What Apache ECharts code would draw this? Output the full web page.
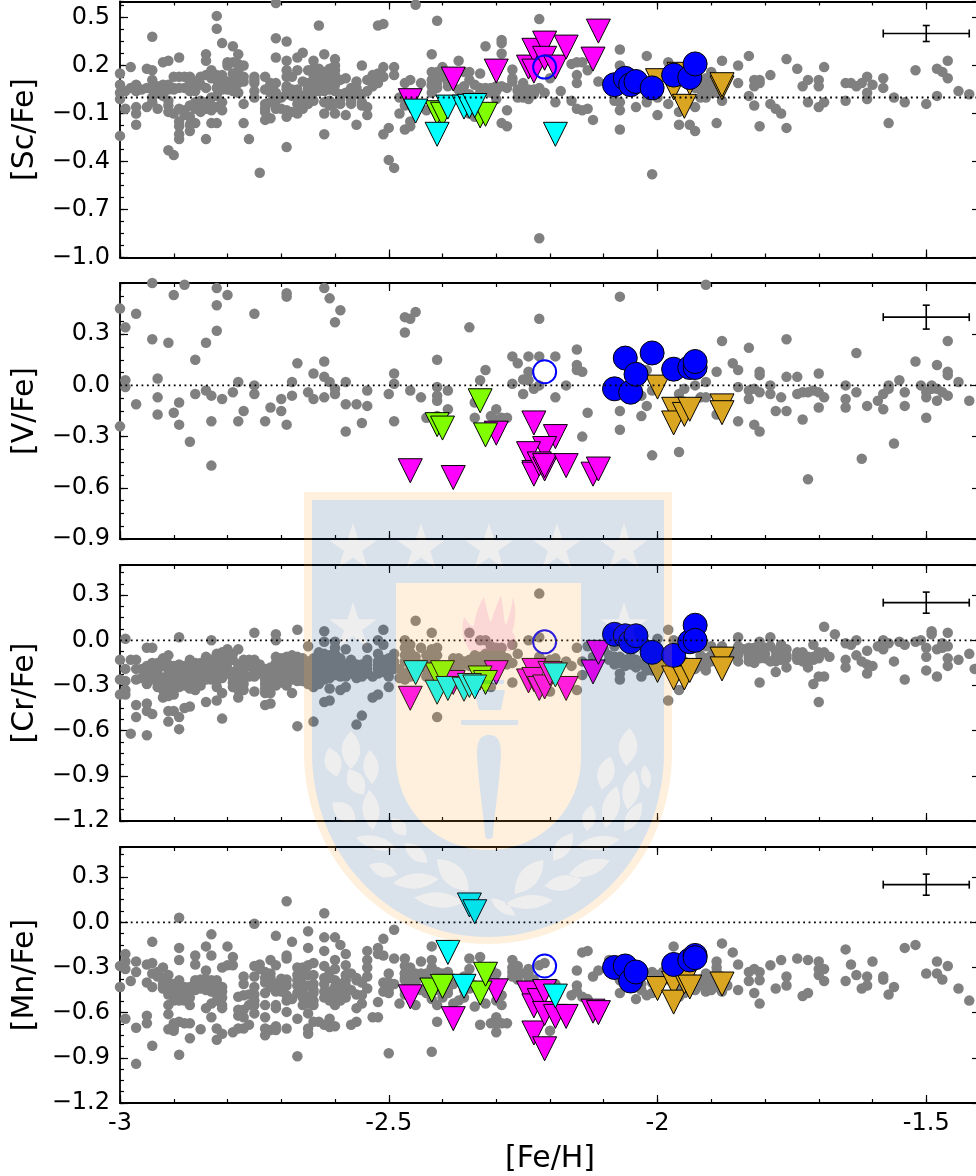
<!DOCTYPE html>
<html><head><meta charset="utf-8">
<style>html,body{margin:0;padding:0;background:#fff}#c{width:976px;height:1176px}</style>
<script src="https://cdn.jsdelivr.net/npm/echarts@6/dist/echarts.min.js"></script>
</head><body><div id="c"></div>
<script>
// Gray field-star samples: [ [Fe/H], [ratio values...] ]
const scGray=[[-3,[.15,.03,-.24]],[-2.99,[.04,-.07]],[-2.98,[.19,.06]],[-2.97,[.08,.04,-.06,-.1,-.17]],[-2.95,[.18,.06,-.06]],[-2.94,[.38,.17,.11,.05,-.03]],[-2.93,[.07,.03,-.07]],[-2.92,[.22,.06,.01]],[-2.91,[.23,.05,-.02,-.09,-.33]],[-2.9,[.13,.06,-.36]],[-2.89,[.25,.13,.06,-.07,-.15,-.18,-.23,-.26]],[-2.88,[.06,-.08,-.11]],[-2.87,[.13,.09,-.12,-.17,-.21]],[-2.86,[.1,-.03,-.16]],[-2.85,[.13,.08,-.06]],[-2.84,[.27,.23,.14,.06,-.07,-.26]],[-2.83,[.17,0,-.05,-.16]],[-2.82,[.51,.43,.11,.06,-.06,-.16]],[-2.81,[.34,.14,.05,-.03,-.08]],[-2.8,[.22,.05]],[-2.79,[.32,.22,.1,.04]],[-2.78,[.27,.17,.09,.03]],[-2.77,[.2,.13,-.04,-.16]],[-2.76,[-.26]],[-2.75,[.13,.09,.04,0]],[-2.74,[-.47]],[-2.73,[.13,.05,-.04,-.09,-.14]],[-2.72,[.08,.03,-.13]],[-2.71,[.59,.37,.25,.09,-.02,-.07]],[-2.7,[0,-.07]],[-2.69,[.35,.23,.17,.13,.07,-.08,-.12,-.31]],[-2.68,[.13,.05,-.09]],[-2.67,[.25,.17,.05,-.1]],[-2.66,[.28,.01,-.07]],[-2.65,[.17,.09,.04,-.04]],[-2.64,[.23,.18,.11,.06,-.02]],[-2.63,[.45,.18,.1]],[-2.62,[.27,.16,.07,-.1,-.23]],[-2.61,[.18,.1,.05,-.02]],[-2.6,[.24,.2,.04,-.04,-.1]],[-2.59,[.11,-.04]],[-2.58,[.12,.03,-.11]],[-2.57,[.06,-.04]],[-2.56,[.1,.06,-.17]],[-2.55,[.2,.02,-.03]],[-2.54,[.11,.04,-.06,-.11]],[-2.53,[.14,.07]],[-2.52,[.45,.15,.09]],[-2.51,[.46,.19,.13,-.23]],[-2.5,[-.39,-.19]],[-2.49,[.19,.14,-.44]],[-2.48,[0,-.1]],[-2.47,[.09,-.05,-.2]],[-2.46,[.11,-.15,-.18]],[-2.45,[.58]],[-2.44,[.09]],[-2.43,[-.08]],[-2.42,[.27,.11,.07,.03]],[-2.41,[.48,.16,.11,.06]],[-2.4,[.19,.13]],[-2.39,[.07]],[-2.37,[.23]],[-2.36,[.16,.07]],[-2.35,[.16,.11]],[-2.34,[-.12,.08]],[-2.33,[.15,.06]],[-2.32,[.32,.06]],[-2.31,[.06]],[-2.3,[-.01,.07]],[-2.29,[.36,.34,.275,.07,-.16]],[-2.28,[.06,-.08,-.18]],[-2.27,[.175,.12]],[-2.26,[.05]],[-2.25,[.09]],[-2.24,[.05,-.01]],[-2.23,[.05]],[-2.22,[.49,.06,-.88]],[-2.21,[.03]],[-2.2,[.12]],[-2.19,[-.03]],[-2.18,[.04]],[-2.16,[.21,-.02]],[-2.15,[.22,.14,.09,-.07]],[-2.14,[.22,-.08]],[-2.13,[.17,-.07]],[-2.12,[-.14]],[-2.11,[.1]],[-2.08,[-.02]],[-2.07,[.3,.2,-.03,-.08,-.2]],[-2.04,[-.06]],[-2.02,[.26,-.03]],[-2.01,[-.48]],[-2,[-.11,0]],[-1.98,[.22,-.04]],[-1.96,[-.09,-.17]],[-1.94,[-.17]],[-1.93,[-.06,-.21]],[-1.92,[0,.05]],[-1.91,[.12,.05,0]],[-1.9,[.16,.06]],[-1.89,[-.16]],[-1.88,[.23,-.02]],[-1.85,[.2,.09]],[-1.83,[.26,.01]],[-1.82,[.11,.07,-.05]],[-1.81,[.11,.09,-.18]],[-1.79,[.14,-.04]],[-1.78,[-.07]],[-1.77,[-.1]],[-1.76,[.24,-.19]],[-1.74,[.18]],[-1.73,[.07]],[-1.72,[.11,-.03]],[-1.7,[.11,.07,-.06]],[-1.69,[.19,-.03]],[-1.65,[.09,-.02]],[-1.64,[.09]],[-1.63,[.07]],[-1.62,[.09]],[-1.61,[.13,.03,-.01]],[-1.6,[.08]],[-1.58,[.12,.06]],[-1.57,[-.16]],[-1.56,[0]],[-1.54,[-.03]],[-1.52,[.17]],[-1.5,[-.04]],[-1.48,[.18,.01]],[-1.47,[.16]],[-1.46,[.23,.12]],[-1.44,[.04]],[-1.42,[.02]]];
const scGrayBand=[[-3,[.08,-.01]],[-2.96,[.05]],[-2.94,[0]],[-2.92,[.08]],[-2.91,[-.05,.08]],[-2.9,[.05,-.1]],[-2.88,[.13]],[-2.87,[.04,-.05]],[-2.86,[.04,-.07]],[-2.85,[-.02,-.09]],[-2.84,[-.03]],[-2.83,[-.08,.12]],[-2.82,[.14,.01]],[-2.81,[.1]],[-2.8,[.2,.1]],[-2.79,[.15,.07]],[-2.78,[.21,.12]],[-2.77,[.1]],[-2.75,[.11]],[-2.73,[-.07]],[-2.72,[.09,-.03]],[-2.71,[.03]],[-2.69,[.05,.02]],[-2.68,[.01]],[-2.67,[.02,-.04]],[-2.66,[.1,-.02]],[-2.65,[.06,-.01]],[-2.64,[.14,.03]],[-2.63,[.15,.12,.04]],[-2.62,[.12,.04,-.03]],[-2.61,[.14,.08,-.05]],[-2.6,[.17,.14,.08]],[-2.59,[.02,-.01]],[-2.57,[.01,-.02]],[-2.56,[.02]],[-2.55,[-.05]],[-2.53,[.1]],[-2.52,[.12]],[-2.47,[.02]],[-2.46,[0]],[-2.42,[.16,.08]],[-2.41,[.13,.09]],[-2.4,[.16]],[-2.39,[.1]],[-2.37,[.05]],[-2.36,[.02]],[-2.35,[.02,-.1]],[-2.34,[0]],[-2.33,[.03]],[-2.32,[.04]],[-2.31,[.03]],[-2.3,[.04]],[-2.27,[.1]],[-2.26,[.04,0]],[-2.25,[.06,0]],[-2.24,[.02]],[-2.23,[.02]],[-1.93,[.06]],[-1.92,[.09]],[-1.91,[.09]],[-1.9,[.08,.03]],[-1.89,[.03]]];
const vGray=[[-3,[.45,-.24]],[-2.99,[.34,.03,-.01]],[-2.97,[.42,-.11]],[-2.94,[.6,.27]],[-2.93,[.04,-.07,-.17]],[-2.91,[.25]],[-2.9,[.53,-.16]],[-2.89,[-.1,-.23]],[-2.88,[.59]],[-2.87,[-.33]],[-2.86,[.15,-.05]],[-2.84,[.25,-.03]],[-2.83,[-.06,-.21,-.47]],[-2.82,[.57,.47,.32]],[-2.81,[-.08]],[-2.8,[.53]],[-2.79,[-.04]],[-2.78,[.02,-.21]],[-2.77,[-.15]],[-2.75,[.42,0,-.05]],[-2.73,[-.21]],[-2.72,[-.13]],[-2.7,[-.08,-.15]],[-2.69,[.54,.52,-.23]],[-2.68,[.02,-.06]],[-2.67,[.13]],[-2.65,[-.04]],[-2.64,[.07,-.08]],[-2.62,[.57,.14,.05,-.07]],[-2.61,[.51,.02]],[-2.6,[.37,-.02,-.05]],[-2.59,[.44]],[-2.58,[.02,-.11,-.27]],[-2.56,[-.11]],[-2.55,[-.22]],[-2.54,[-.03,-.12]],[-2.5,[-.05]],[-2.49,[.07,.01,-.21]],[-2.47,[.4,.31]],[-2.46,[.39,-.03]],[-2.45,[.43]],[-2.44,[-.07]],[-2.43,[-.19]],[-2.41,[.15,-.01,-.06,-.09,-.18]],[-2.39,[-.03,-.14]],[-2.35,[.34]],[-2.34,[-.1,-.19]],[-2.33,[.03]],[-2.32,[.09]],[-2.31,[-.18]],[-2.3,[-.14,-.2]],[-2.29,[-.19]],[-2.28,[-.19]],[-2.27,[.17,.01]],[-2.26,[.13]],[-2.25,[.035,-.05]],[-2.24,[.17,.08,.03]],[-2.23,[-.02]],[-2.22,[.39,.17,0]],[-2.19,[.17,-.07]],[-2.17,[0]],[-2.15,[.21,.12,.09]],[-2.14,[.08,-.3]],[-2.13,[-.16]],[-2.07,[.52,-.15,-.26]],[-2.03,[-.06,-.18]],[-2.02,[-.12,.09]],[-2.01,[-.03,-.41]],[-1.96,[-.05,-.39]],[-1.95,[-.02]],[-1.93,[0]],[-1.92,[-.07]],[-1.91,[.59,.02,-.07]],[-1.89,[.08,-.17]],[-1.88,[.26]],[-1.86,[.13]],[-1.85,[.09,-.01,-.21]],[-1.83,[.22,-.03,-.08]],[-1.82,[-.02,-.23]],[-1.81,[.08,.06,-.04,-.27]],[-1.79,[0,-.05]],[-1.78,[-.15]],[-1.77,[-.07]],[-1.76,[.27,.05,-.15]],[-1.74,[.05,-.05]],[-1.73,[-.04,-.2]],[-1.72,[-.04,-.55]],[-1.71,[-.03]],[-1.7,[.07,-.04,-.13]],[-1.69,[-.07]],[-1.65,[0,-.08,-.13]],[-1.63,[.19,-.04]],[-1.62,[-.43]],[-1.61,[-.12]],[-1.59,[-.09]],[-1.58,[-.05,-.14]],[-1.57,[0,-.02]],[-1.56,[-.34]],[-1.55,[.03]],[-1.54,[-.04,-.12]],[-1.52,[.14]],[-1.51,[0]],[-1.5,[-.04,-.07,-.19]],[-1.49,[0,-.02]],[-1.48,[.12,-.02,-.09]],[-1.47,[-.04]],[-1.46,[.26,.08,.06,-.06]],[-1.44,[.02]],[-1.42,[-.09]]];
const crGray=[[-3,[-.13,-.26,-.36]],[-2.99,[.01,-.19,-.27,-.33,-.36]],[-2.98,[-.13,-.62]],[-2.97,[-.13,-.19,-.26,-.43,-.51]],[-2.95,[-.05,-.29,-.42,-.47,-.63]],[-2.94,[-.05,-.15,-.19,-.49]],[-2.93,[-.19,-.26,-.31]],[-2.92,[-.12,-.33,-.38]],[-2.91,[-.1,-.22,-.32,-.37,-.47,-.54]],[-2.9,[-.17,-.22,-.36,-.47]],[-2.89,[.02,-.16,-.23,-.51,-.59]],[-2.88,[-.17,-.23,-.45]],[-2.87,[-.13,-.22,-.32,-.44]],[-2.86,[-.15,-.24]],[-2.85,[-.2,-.3]],[-2.84,[-.11,-.17,-.23,-.41]],[-2.83,[0,-.13,-.22]],[-2.82,[-.09,-.16,-.24,-.31,-.4]],[-2.81,[-.08,-.2,-.35,-.52]],[-2.8,[-.06,-.15]],[-2.79,[-.09,-.25,-.31]],[-2.78,[-.06,-.16,-.24,-.33,-.38]],[-2.77,[-.13,-.22,-.29]],[-2.76,[-.13]],[-2.75,[.05,-.13,-.24,-.34]],[-2.73,[-.19,-.29,-.35,-.43]],[-2.72,[-.22,-.31,-.42]],[-2.71,[.04,0,-.11,-.2,-.3]],[-2.7,[-.15,-.24]],[-2.69,[-.11,-.2,-.3]],[-2.68,[-.1,-.22,-.35]],[-2.67,[.07,-.11,-.24,-.57]],[-2.66,[-.12,-.17]],[-2.65,[-.04,-.14,-.29]],[-2.64,[-.16,-.26,-.31,-.54]],[-2.63,[-.08,-.2]],[-2.62,[.06,-.01,-.09,-.17,-.23,-.41]],[-2.61,[-.1,-.21,-.32,-.4]],[-2.6,[-.01,-.05,-.13,-.23]],[-2.59,[-.12,-.21,-.33]],[-2.58,[-.06,-.16,-.31]],[-2.57,[-.17]],[-2.56,[-.21,-.23,-.56]],[-2.55,[-.22,-.5]],[-2.54,[-.05,-.13,-.19]],[-2.53,[-.24,-.38]],[-2.52,[0,-.09,-.19,-.36]],[-2.51,[.07,-.03,-.13]],[-2.5,[-.21,-.31]],[-2.49,[-.09]],[-2.48,[-.19,-.25]],[-2.47,[0,-.26]],[-2.46,[-.03,-.19]],[-2.45,[.13]],[-2.44,[-.05]],[-2.43,[-.15,-.24]],[-2.42,[.05,-.06,-.15]],[-2.41,[-.05,-.51,-.26]],[-2.4,[-.22]],[-2.39,[-.19]],[-2.38,[-.12]],[-2.37,[-.17]],[-2.35,[.05,-.13]],[-2.34,[-.1]],[-2.33,[0,-.11]],[-2.32,[0,-.09,-.17]],[-2.31,[-.04,-.31]],[-2.3,[-.05,-.1]],[-2.29,[-.05]],[-2.27,[-.03,-.15,-.28]],[-2.26,[-.09]],[-2.24,[0]],[-2.22,[.31,.02,-.11]],[-2.21,[-.14]],[-2.2,[-.34]],[-2.19,[-.12]],[-2.17,[-.14]],[-2.16,[-.17]],[-2.15,[-.05,-.33]],[-2.14,[-.23]],[-2.13,[-.04]],[-2.12,[-.11]],[-2.1,[-.06]],[-2.09,[-.1]],[-2.08,[-.04,-.11]],[-2.07,[-.11,-.22,-.26]],[-2.06,[-.14]],[-2.05,[-.11]],[-2.04,[-.13]],[-2.03,[-.24]],[-2.02,[-.15]],[-2.01,[-.2]],[-2,[.01,-.17]],[-1.98,[.07,-.4]],[-1.97,[0,-.13]],[-1.96,[-.33]],[-1.95,[-.17]],[-1.94,[0]],[-1.93,[-.19]],[-1.92,[-.13]],[-1.91,[-.04,-.17]],[-1.9,[-.04]],[-1.88,[-.04]],[-1.86,[-.09]],[-1.85,[.02,-.04,-.14]],[-1.84,[-.06]],[-1.83,[-.05,-.1]],[-1.82,[-.05,-.15]],[-1.81,[-.01,-.08,-.28]],[-1.8,[-.05]],[-1.79,[.02,-.04,-.14]],[-1.78,[-.11,-.21]],[-1.77,[-.03,-.09]],[-1.76,[-.06,-.18]],[-1.74,[-.08,-.12]],[-1.73,[-.08,-.12]],[-1.72,[-.11,-.18]],[-1.71,[-.03,-.29]],[-1.7,[-.1,-.24,-.41]],[-1.69,[.09,-.24,-.08]],[-1.68,[-.11]],[-1.67,[.04]],[-1.65,[-.02,-.13,-.18]],[-1.64,[-.03]],[-1.63,[0,-.1]],[-1.62,[-.14]],[-1.61,[-.07,-.16,-.22]],[-1.6,[-.17]],[-1.59,[-.04]],[-1.58,[0,-.06]],[-1.57,[-.02]],[-1.56,[-.14]],[-1.55,[-.01]],[-1.54,[-.03,-.26]],[-1.52,[-.01]],[-1.51,[0]],[-1.5,[-.05,-.11,-.2]],[-1.49,[.06,.04]],[-1.48,[-.06,-.24]],[-1.47,[-.02,-.05]],[-1.46,[.05,-.04,-.12,-.17]],[-1.44,[-.13]],[-1.42,[-.09]],[-1.41,[-.19]]];
const crGrayBand=[[-2.96,[-.19,-.25]],[-2.95,[-.17,-.23]],[-2.94,[-.22,-.26]],[-2.93,[-.15,-.22]],[-2.92,[-.17,-.25,-.28]],[-2.91,[-.16,-.27]],[-2.9,[-.26,-.3]],[-2.89,[-.19,-.27,-.31]],[-2.88,[-.2,-.27,-.3]],[-2.87,[-.17,-.26]],[-2.86,[-.19,-.28,-.33]],[-2.85,[-.15,-.25]],[-2.84,[-.14,-.2,-.26]],[-2.83,[-.17,-.19,-.26]],[-2.82,[-.12,-.2,-.27]],[-2.81,[-.12,-.16,-.25]],[-2.8,[-.1,-.19,-.22]],[-2.79,[-.13,-.21,-.28]],[-2.78,[-.2,-.28]],[-2.77,[-.18,-.25,-.33]],[-2.76,[-.17,-.24]],[-2.75,[-.17,-.2]],[-2.74,[-.16,-.22]],[-2.73,[-.23,-.26,-.32]],[-2.72,[-.18,-.26,-.35]],[-2.71,[-.15,-.24,-.27]],[-2.7,[-.12,-.19,-.28]],[-2.69,[-.15,-.25]],[-2.68,[-.13,-.17,-.26]],[-2.67,[-.14,-.19,-.27]],[-2.66,[-.2,-.23,-.27]],[-2.65,[-.17,-.22,-.25]],[-2.64,[-.12,-.19,-.22]],[-2.63,[-.13,-.16,-.25,-.29]],[-2.62,[-.13,-.2,-.26]],[-2.61,[-.14,-.17,-.25]],[-2.6,[-.09,-.17,-.2]],[-2.59,[-.15,-.18,-.24]],[-2.58,[-.2,-.24]],[-2.57,[-.13,-.22]],[-2.56,[-.16,-.19,-.25]],[-2.55,[-.16,-.24]],[-2.54,[-.16,-.22]],[-2.52,[-.14,-.17,-.22]],[-2.51,[-.18,-.21]],[-2.5,[-.12,-.17,-.24]],[-2.49,[-.14,-.19]],[-2.47,[-.05,-.1,-.14,-.22]],[-2.46,[-.08,-.14,-.24]],[-2.45,[-.11,-.21]],[-2.44,[-.16]],[-2.43,[-.1,-.19]],[-2.42,[-.1,-.2,-.23]],[-2.41,[-.1]],[-2.4,[-.17]],[-2.38,[-.16,-.2]],[-2.37,[-.12,-.2]],[-2.36,[-.14,-.16]],[-2.35,[-.17]],[-2.34,[-.14]],[-2.33,[-.15]],[-2.32,[-.13]],[-2.31,[-.1,-.15]],[-2.3,[-.14]],[-2.29,[-.1,-.14]],[-2.28,[-.12,-.16]],[-2.2,[-.13]],[-2.19,[-.16]],[-2.14,[-.14]],[-2.09,[-.13]],[-2.08,[-.14,-.16]],[-2.07,[-.15]],[-2.06,[-.13,-.17]],[-2.05,[-.14,-.16]],[-2.04,[-.15,-.18]],[-2.03,[-.16]],[-2.02,[-.18,-.2]],[-2,[-.2]],[-1.96,[-.15]],[-1.95,[-.14]],[-1.92,[-.1,-.17]],[-1.91,[-.12,-.15,-.2]],[-1.9,[-.14,-.1]],[-1.85,[-.1]],[-1.83,[-.08,-.12,-.14]],[-1.82,[-.09,-.13]],[-1.81,[-.12]],[-1.8,[-.09,-.12]],[-1.78,[-.07,-.14]],[-1.77,[-.13]],[-1.76,[-.1,-.12]],[-1.74,[-.1,-.13]],[-1.73,[-.14]],[-1.72,[-.12,-.13]],[-1.71,[-.11,-.13]],[-1.7,[-.08,-.12]]];
const mnGray=[[-3,[-.29,-.43]],[-2.99,[-.21,-.26,-.31,-.64]],[-2.98,[-.39]],[-2.97,[-.26,-.33,-.7,-.94]],[-2.95,[-.28,-.4,-.62,-.67]],[-2.94,[-.13,-.27,-.34,-.43,-.82]],[-2.93,[-.33,-.36]],[-2.92,[-.3,-.44]],[-2.91,[-.35,-.45,-.55,-.61,-.71]],[-2.9,[-.41,-.485,-.67,-.72]],[-2.89,[.03,-.17,-.25,-.385,-.52,-.66,-.88]],[-2.88,[-.43,-.495,-.67]],[-2.87,[-.43,-.55,-.67,-.77]],[-2.86,[-.22,-.28,-.385]],[-2.85,[-.42,-.71]],[-2.84,[-.16,-.32,-.41,-.57]],[-2.83,[-.08,-.22,-.385,-.54,-.63]],[-2.82,[-.385,-.45,-.705,-.78]],[-2.81,[-.3,-.43,-.57,-.74]],[-2.8,[-.16,-.285]],[-2.79,[-.23,-.285,-.73]],[-2.78,[-.495,-.58,-.62,-.705]],[-2.77,[-.36,-.41,-.485,-.705]],[-2.76,[-.48]],[-2.75,[-.01,-.29,-.36,-.43,-.48,-.605]],[-2.73,[-.47,-.55,-.63,-.705,-.75]],[-2.72,[-.25,-.34,-.715]],[-2.71,[-.09,-.285,-.41,-.55,-.57,-.715]],[-2.7,[-.375]],[-2.69,[.14,-.22,-.24,-.42,-.485,-.595,-.705]],[-2.68,[-.13,-.51]],[-2.67,[-.3,-.35,-.385,-.64,-.89]],[-2.66,[-.3,-.46,-.55]],[-2.65,[-.06,-.17,-.285,-.495,-.605,-.705,-.74]],[-2.64,[-.27,-.41,-.47,-.55,-.66]],[-2.63,[-.66]],[-2.62,[.06,-.1,-.19,-.37,-.46]],[-2.61,[-.33,-.52,-.64,-.695]],[-2.6,[-.1,-.25,-.385,-.495,-.69]],[-2.59,[-.15,-.46]],[-2.58,[-.21,-.285,-.385,-.46]],[-2.57,[-.34,-.68]],[-2.56,[-.385,-.57,-.66]],[-2.55,[-.485,-.54]],[-2.54,[-.19,-.25,-.36,-.44]],[-2.53,[-.63]],[-2.52,[-.17,-.21,-.53,-.63]],[-2.51,[-.11,-.22,-.4,-.46]],[-2.5,[-.34,-.47,-.87]],[-2.49,[-.05,-.24,-.41]],[-2.48,[-.54]],[-2.47,[-.24,-.29,-.34,-.385]],[-2.46,[-.4,-.36]],[-2.45,[-.4,-.34]],[-2.44,[-.26,-.34]],[-2.43,[-.34]],[-2.42,[-.16,-.25,-.51,-.86]],[-2.41,[-.33,-.66]],[-2.4,[-.34,-.42]],[-2.39,[-.47]],[-2.38,[-.54]],[-2.37,[-.52]],[-2.35,[-.24,-.31]],[-2.34,[-.56]],[-2.33,[-.23,-.68]],[-2.32,[-.54]],[-2.31,[-.67]],[-2.3,[-.34,-.67,-.73]],[-2.29,[-.485,-.55]],[-2.28,[-.67]],[-2.27,[-.25,-.36]],[-2.26,[-.29,-.34]],[-2.25,[-.34]],[-2.24,[-.31,-.35]],[-2.22,[-.285]],[-2.21,[-.27]],[-2.2,[-.72]],[-2.19,[-.41]],[-2.16,[-.485]],[-2.15,[-.32,-.42,-.46]],[-2.14,[-.2,-.495]],[-2.13,[-.19,-.51]],[-2.12,[-.36]],[-2.11,[-.32]],[-2.09,[-.25,-.32]],[-2.07,[-.385,-.47]],[-2.06,[-.36]],[-2.04,[-.51]],[-2.03,[-.34,-.45]],[-2.02,[-.485]],[-2.01,[-.33]],[-1.99,[-.33]],[-1.97,[-.16]],[-1.96,[-.495]],[-1.95,[-.47]],[-1.93,[-.45]],[-1.91,[-.34,-.41]],[-1.9,[-.41]],[-1.89,[-.26,-.33]],[-1.88,[-.14,-.43]],[-1.86,[-.2]],[-1.85,[-.28,-.45]],[-1.83,[-.33,-.39]],[-1.82,[-.31,-.47]],[-1.81,[-.33,-.385,-.54]],[-1.79,[-.285]],[-1.78,[-.44]],[-1.77,[-.25]],[-1.76,[-.36,-.42]],[-1.74,[-.24]],[-1.73,[-.49]],[-1.72,[-.25,-.47]],[-1.7,[-.26,-.31,-.35]],[-1.69,[-.31,-.39]],[-1.65,[-.18,-.39]],[-1.64,[-.28]],[-1.63,[-.35]],[-1.62,[-.44]],[-1.61,[-.36,-.42]],[-1.6,[-.26]],[-1.58,[-.36,-.38]],[-1.57,[-.48]],[-1.56,[-.43]],[-1.54,[-.17]],[-1.52,[-.15]],[-1.5,[-.34]],[-1.48,[-.26,-.34]],[-1.47,[-.38]],[-1.46,[-.29]],[-1.44,[-.44]],[-1.42,[-.52]]];
const mnGrayBand=[[-2.92,[-.37,-.41]],[-2.91,[-.4,-.48]],[-2.9,[-.44,-.52,-.7]],[-2.89,[-.43,-.46]],[-2.88,[-.47,-.52]],[-2.87,[-.46,-.5]],[-2.86,[-.4,-.45]],[-2.85,[-.38,-.44]],[-2.84,[-.38,-.45]],[-2.83,[-.41,-.46]],[-2.82,[-.41,-.48,-.52]],[-2.81,[-.46,-.5,-.55]],[-2.77,[-.58,-.63]],[-2.76,[-.55,-.68]],[-2.75,[-.52,-.55]],[-2.74,[-.28,-.31]],[-2.73,[-.33,-.37,-.4]],[-2.72,[-.37,-.4,-.43]],[-2.71,[-.43,-.46,-.69]],[-2.7,[-.4,-.43,-.46]],[-2.69,[-.38,-.52]],[-2.67,[-.42,-.47]],[-2.66,[-.36,-.42,-.5]],[-2.65,[-.35,-.42,-.54]],[-2.64,[-.35,-.45,-.52]],[-2.62,[-.29,-.41,-.5,-.68]],[-2.61,[-.37,-.46,-.49]],[-2.6,[-.31,-.43,-.46,-.55]],[-2.59,[-.41,-.52]],[-2.58,[-.35,-.42,-.5]],[-2.57,[-.45]],[-2.56,[-.37,-.48]],[-2.55,[-.4]],[-2.54,[-.3]],[-2.5,[-.4,-.44]],[-2.47,[-.34,-.37,-.45,-.48]],[-2.46,[-.3,-.44]],[-2.45,[-.37,-.55]],[-2.44,[-.45]],[-2.43,[-.47,-.38]],[-2.42,[-.3,-.45]],[-2.41,[-.45,-.55]],[-2.4,[-.47,-.5]],[-2.39,[-.33,-.44]],[-2.38,[-.41]],[-2.36,[-.36,-.45,-.5]],[-2.35,[-.38,-.44]],[-2.34,[-.42]],[-2.31,[-.3,-.36]],[-2.3,[-.4,-.63,-.52]],[-2.29,[-.67]],[-2.27,[-.3,-.33]],[-2.26,[-.38]],[-2.24,[-.33,-.39]],[-2.23,[-.38]],[-2.04,[-.4,-.43]],[-2.03,[-.41]],[-2.01,[-.4,-.47]],[-2,[-.35,-.37]],[-1.98,[-.36,-.38]],[-1.96,[-.38,-.42]],[-1.95,[-.39]],[-1.94,[-.36]],[-1.93,[-.38]],[-1.92,[-.38,-.42]],[-1.91,[-.38,-.46]],[-1.9,[-.38,-.45]],[-1.89,[-.3,-.43]],[-1.88,[-.36,-.46]],[-1.87,[-.42]]];

// Program stars, one list per group and element
const scMagenta=[[-2.46,-.02],[-2.38,.115],[-2.30,.165],[-2.24,.19],[-2.23,.295],[-2.23,.165],[-2.21,.34],[-2.21,.245],[-2.19,.19],[-2.17,.315],[-2.12,.24],[-2.11,.415]];
const scCyan=[[-2.45,-.085],[-2.41,-.23],[-2.39,-.06],[-2.36,-.06],[-2.35,-.055],[-2.34,-.05],[-2.19,-.23]];
const scLime=[[-2.41,-.095],[-2.40,-.105],[-2.33,-.115],[-2.32,-.105]];
const scGold=[[-2.00,.105],[-1.97,.06],[-1.96,.145],[-1.95,-.055],[-1.94,.09],[-1.88,.06],[-1.88,.08]];
const scBlue=[[-2.08,.08],[-2.06,.12],[-2.05,.08],[-2.04,.1],[-2.01,.06],[-1.97,.14],[-1.94,.125],[-1.93,.21]];
const scOpen=[[-2.21,.19]];
const vMagenta=[[-2.46,-.5],[-2.38,-.54],[-2.30,-.28],[-2.23,-.22],[-2.19,-.3],[-2.21,-.37],[-2.24,-.4],[-2.23,-.51],[-2.23,-.52],[-2.22,-.46],[-2.21,-.49],[-2.21,-.47],[-2.17,-.47],[-2.12,-.52],[-2.11,-.49]];
const vCyan=[];
const vLime=[[-2.41,-.23],[-2.40,-.25],[-2.33,-.09],[-2.32,-.29]];
const vGold=[[-2.00,-.01],[-1.97,-.14],[-1.97,-.22],[-1.95,-.17],[-1.94,-.14],[-1.88,-.12],[-1.88,-.16]];
const vBlue=[[-2.08,-.02],[-2.06,.16],[-2.05,-.04],[-2.04,.065],[-2.01,.19],[-1.97,.095],[-1.94,.105],[-1.93,.105],[-1.93,.14]];
const vOpen=[[-2.21,.08]];
const crMagenta=[[-2.46,-.385],[-2.38,-.28],[-2.30,-.215],[-2.24,-.27],[-2.23,-.2],[-2.23,-.26],[-2.22,-.32],[-2.21,-.31],[-2.20,-.22],[-2.17,-.32],[-2.12,-.21],[-2.11,-.08]];
const crCyan=[[-2.45,-.215],[-2.41,-.345],[-2.39,-.32],[-2.36,-.325],[-2.35,-.3],[-2.34,-.31],[-2.19,-.23]];
const crLime=[[-2.41,-.23],[-2.40,-.215],[-2.33,-.25],[-2.32,-.28]];
const crGold=[[-2.00,-.2],[-1.97,-.25],[-1.95,-.25],[-1.94,-.2],[-1.88,-.125],[-1.88,-.19]];
const crBlue=[[-2.08,.04],[-2.06,.03],[-2.05,-.01],[-2.04,.03],[-2.01,-.08],[-1.97,-.1],[-1.94,-.01],[-1.93,.1],[-1.93,0]];
const crOpen=[[-2.21,-.01]];
const mnMagenta=[[-2.46,-.495],[-2.38,-.64],[-2.30,-.455],[-2.24,-.47],[-2.23,-.555],[-2.23,-.735],[-2.22,-.52],[-2.21,-.46],[-2.21,-.605],[-2.21,-.84],[-2.19,-.625],[-2.17,-.625],[-2.12,-.59],[-2.11,-.6]];
const mnCyan=[[-2.39,-.2],[-2.36,-.425],[-2.35,.115],[-2.34,.07],[-2.19,-.49]];
const mnLime=[[-2.42,-.45],[-2.40,-.425],[-2.33,-.47],[-2.32,-.345]];
const mnGold=[[-2.00,-.44],[-1.97,-.405],[-1.97,-.53],[-1.95,-.395],[-1.94,-.43],[-1.88,-.41]];
const mnBlue=[[-2.08,-.3],[-2.06,-.29],[-2.05,-.39],[-2.04,-.33],[-1.97,-.28],[-1.94,-.25],[-1.93,-.22],[-1.93,-.235]];
const mnOpen=[[-2.21,-.29]];

// Representative error bars: [Fe/H], ratio, x error, y error
const scErr=[[-1.5,.4,.08,.05]];
const vErr=[[-1.5,.4,.08,.07]];
const crErr=[[-1.5,.25,.08,.07]];
const mnErr=[[-1.5,.25,.08,.07]];

const xTicks=[-3,-2.5,-2,-1.5];
const yLabels=['[Sc/Fe]','[V/Fe]','[Cr/Fe]','[Mn/Fe]'];
const yRanges=[[-1,.6],[-.9,.6],[-1.2,.5],[-1.2,.5]];
const xLabel='[Fe/H]';

const panels=[
 {gray:scGray.concat(scGrayBand),magenta:scMagenta,lime:scLime,cyan:scCyan,gold:scGold,blue:scBlue,open:scOpen,err:scErr},
 {gray:vGray,magenta:vMagenta,lime:vLime,cyan:vCyan,gold:vGold,blue:vBlue,open:vOpen,err:vErr},
 {gray:crGray.concat(crGrayBand),magenta:crMagenta,lime:crLime,cyan:crCyan,gold:crGold,blue:crBlue,open:crOpen,err:crErr},
 {gray:mnGray.concat(mnGrayBand),magenta:mnMagenta,lime:mnLime,cyan:mnCyan,gold:mnGold,blue:mnBlue,open:mnOpen,err:mnErr}
];
const tops=[1.5,283,565,847];
const FONT='"DejaVu Sans"';
const tri='path://M0 0L2 0L1 2Z';
const grids=[],xAxes=[],yAxes=[],series=[];

function xA(g,pos,interval,len,labels,name){
  return {gridIndex:g,type:'value',position:pos,min:-3,max:-1.4,interval:interval,splitLine:{show:false},
    axisLine:{show:len===8,onZero:false,lineStyle:{color:'#000',width:1.8}},
    axisTick:{show:true,inside:true,length:len,lineStyle:{color:'#000',width:1.2}},
    axisLabel:{show:!!labels,showMaxLabel:false,color:'#000',fontFamily:FONT,fontSize:24,margin:9,
      formatter:v=>xTicks.includes(+v.toFixed(1))?String(+v.toFixed(1)):''},
    name:name||'',nameLocation:'middle',nameGap:41,nameTextStyle:{color:'#000',fontFamily:FONT,fontSize:30}};
}
function yA(g,pos,r,interval,len,labels,name){
  return {gridIndex:g,type:'value',position:pos,min:r[0],max:r[1],interval:interval,splitLine:{show:false},
    axisLine:{show:len===8,onZero:false,lineStyle:{color:'#000',width:1.8}},
    axisTick:{show:true,inside:true,length:len,lineStyle:{color:'#000',width:1.2}},
    axisLabel:{show:!!labels,showMaxLabel:false,showMinLabel:true,color:'#000',fontFamily:FONT,fontSize:24,margin:10,
      formatter:v=>v.toFixed(1).replace('-','\u2212')},
    name:name||'',nameLocation:'middle',nameRotate:90,nameGap:80,nameTextStyle:{color:'#000',fontFamily:FONT,fontSize:30}};
}
panels.forEach((p,i)=>{
  grids.push({left:120,top:tops[i],width:860,height:256,containLabel:false,outerBoundsMode:'none'});
  const xb=xAxes.length, yb=yAxes.length;
  xAxes.push(xA(i,'bottom',.5,8,i===3,i===3?xLabel:''),xA(i,'bottom',.1,4),xA(i,'top',.5,8),xA(i,'top',.1,4));
  yAxes.push(yA(i,'left',yRanges[i],.3,8,true,yLabels[i]),yA(i,'left',yRanges[i],.075,4),yA(i,'right',yRanges[i],.3,8),yA(i,'right',yRanges[i],.075,4));
  const base={xAxisIndex:xb,yAxisIndex:yb,type:'scatter',silent:true,animation:false};
  const grayData=p.gray.flatMap(c=>c[1].map(y=>[c[0],y]));
  series.push(Object.assign({},base,{name:'gray',z:2,symbol:'circle',symbolSize:10.5,itemStyle:{color:'#808080',opacity:1},data:grayData}));
  [['magenta','#ff00ff',3],['lime','#7fff00',4],['cyan','#00ffff',5],['gold','#daa520',6]].forEach(s=>{
    series.push(Object.assign({},base,{name:s[0],z:s[2],symbol:tri,symbolSize:24,itemStyle:{color:s[1],opacity:1,borderColor:'#000',borderWidth:1},data:p[s[0]]}));
  });
  series.push(Object.assign({},base,{name:'blue',z:7,symbol:'circle',symbolSize:24,itemStyle:{color:'#0000ff',opacity:1,borderColor:'#000',borderWidth:1},data:p.blue}));
  series.push(Object.assign({},base,{name:'open',z:8,symbol:'circle',symbolSize:23,itemStyle:{color:'rgba(0,0,0,0)',opacity:1,borderColor:'#0000ff',borderWidth:2},data:p.open}));
  series.push({type:'line',xAxisIndex:xb,yAxisIndex:yb,silent:true,animation:false,z:9,symbol:'none',
    lineStyle:{color:'#000',width:1.8,type:[1.8,3.58]},data:[[-3,0],[-1.4,0]]});
  series.push({type:'custom',xAxisIndex:xb,yAxisIndex:yb,silent:true,animation:false,z:10,clip:false,data:p.err,
    renderItem:(params,api)=>{
      const x=api.value(0),y=api.value(1),ex=api.value(2),ey=api.value(3);
      const c=api.coord([x,y]),l=api.coord([x-ex,y]),r=api.coord([x+ex,y]),t=api.coord([x,y+ey]),b=api.coord([x,y-ey]);
      const st={stroke:'#000',lineWidth:1.6,fill:null};
      const ln=(a,b2,c2,d)=>({type:'line',shape:{x1:a,y1:b2,x2:c2,y2:d},style:st});
      return {type:'group',children:[
        ln(l[0],c[1],r[0],c[1]),ln(c[0],t[1],c[0],b[1]),
        ln(l[0],c[1]-4,l[0],c[1]+4),ln(r[0],c[1]-4,r[0],c[1]+4),
        ln(c[0]-3.5,t[1],c[0]+3.5,t[1]),ln(c[0]-3.5,b[1],c[0]+3.5,b[1])]};
    }});
});

// Watermark crest, laid semi-transparently over the plot
function star(cx,cy,R){let s='';for(let k=0;k<10;k++){const a=(-90-36*k)*Math.PI/180,r=k%2?R*.38:R;
  s+=(k?'L':'M')+(cx+r*Math.cos(a)).toFixed(1)+' '+(cy+r*Math.sin(a)).toFixed(1);}return s+'Z';}
function leaf(cx,cy,L,W,ang){const a=ang*Math.PI/180,ux=Math.cos(a),uy=Math.sin(a),vx=-uy,vy=ux;
  const f=n=>n.toFixed(1);W*=1.7;
  return 'M'+f(cx-ux*L/2)+' '+f(cy-uy*L/2)+'Q'+f(cx+vx*W)+' '+f(cy+vy*W)+' '+f(cx+ux*L/2)+' '+f(cy+uy*L/2)+
         'Q'+f(cx-vx*W)+' '+f(cy-vy*W)+' '+f(cx-ux*L/2)+' '+f(cy-uy*L/2)+'Z';}
const starSpots=[[353,548],[421,548],[489,548],[557,548],[624,548],[353,627],[624,627]];
const leafSpots=[[333,762,30,10,75],[351,750,38,11,90],[371,767,34,9,85],[356,782,30,10,60],[371,810,40,10,85],[344,812,30,10,40],[399,827,22,8,50],[376,843,42,8,15],[416,853,30,8,40],[383,870,30,8,20],[416,881,46,9,-5],[453,875,45,12,45],[439,900,50,9,5],[503,907,30,6,35],
 [628,747,38,11,95],[606,773,34,10,105],[646,777,24,6,80],[631,790,40,10,100],[611,807,44,10,105],[633,817,34,8,120],[589,818,26,8,100],[563,847,34,9,125],[598,843,44,8,170],[589,868,44,9,160],[563,883,38,9,170],[529,877,45,11,130],[529,902,48,8,175]];
const starsD=starSpots.map(s=>star(s[0],s[1],25)).join('');
const leavesD=leafSpots.map(l=>leaf(...l)).join('');
const outerCW='M304 492H672V752C672 860 590 944 488 944C386 944 304 860 304 752Z';
const shieldCW='M312 500H664V752C664 856 586 937 488 937C390 937 312 856 312 752Z';
const shieldCCW='M312 500V752C312 856 390 937 488 937C586 937 664 856 664 752V500Z';
const innerCW='M396 583H581V757C581 810 540 850 488.5 850C437 850 396 810 396 757Z';
const innerCCW='M396 583V757C396 810 437 850 488.5 850C540 850 581 810 581 757V583Z';
const torchCCW='M489 735C478 735 477 745 477 755C479 790 484 815 485 835A4 4 0 0 0 493 835C494 815 499 790 501 755C501 745 500 735 489 735Z'+
  'M474 690L479 710H501L505 690Z'+'M482 680V684H504V680Z'+'M461 720V725H518V720Z';
const torchCW='M489 735C500 735 501 745 501 755C499 790 494 815 493 835A4 4 0 0 1 485 835C484 815 479 790 477 755C477 745 478 735 489 735Z'+
  'M474 690H505L501 710H479Z'+'M482 680H504V684H482Z'+'M461 720H518V725H461Z';
const flame='M470 651C462 640 461 628 464 617C470 625 472 628 474 625C476 612 480 603 484 597C487 610 489 620 491 622C494 612 498 602 501 595C504 610 503 620 506 625C510 615 512 605 513 597C517 610 515 625 512 632C517 635 516 645 512 651Z';
const BLUE='rgba(20,70,130,0.16)',GOLD='rgba(250,170,56,0.176)',PALE='rgba(120,120,120,0.13)';
const crestParts=[[outerCW+shieldCCW,GOLD],[shieldCW+innerCCW+starsD+leavesD,BLUE],[innerCW+torchCCW,GOLD],[torchCW,BLUE],[flame,'rgba(240,120,190,0.2)'],[starsD+leavesD,PALE]];
const graphics=crestParts.map((part,k)=>{
  const typeName='crestPart'+k;
  echarts.graphic.registerShape(typeName,echarts.graphic.extendPath(part[0],{}));
  return {type:typeName,silent:true,z:100,style:{fill:part[1],stroke:null}};
});
const chart=echarts.init(document.getElementById('c'),null,{renderer:'canvas'});
chart.setOption({animation:false,backgroundColor:'#fff',grid:grids,xAxis:xAxes,yAxis:yAxes,series:series,graphic:{elements:graphics}});
</script></body></html>
